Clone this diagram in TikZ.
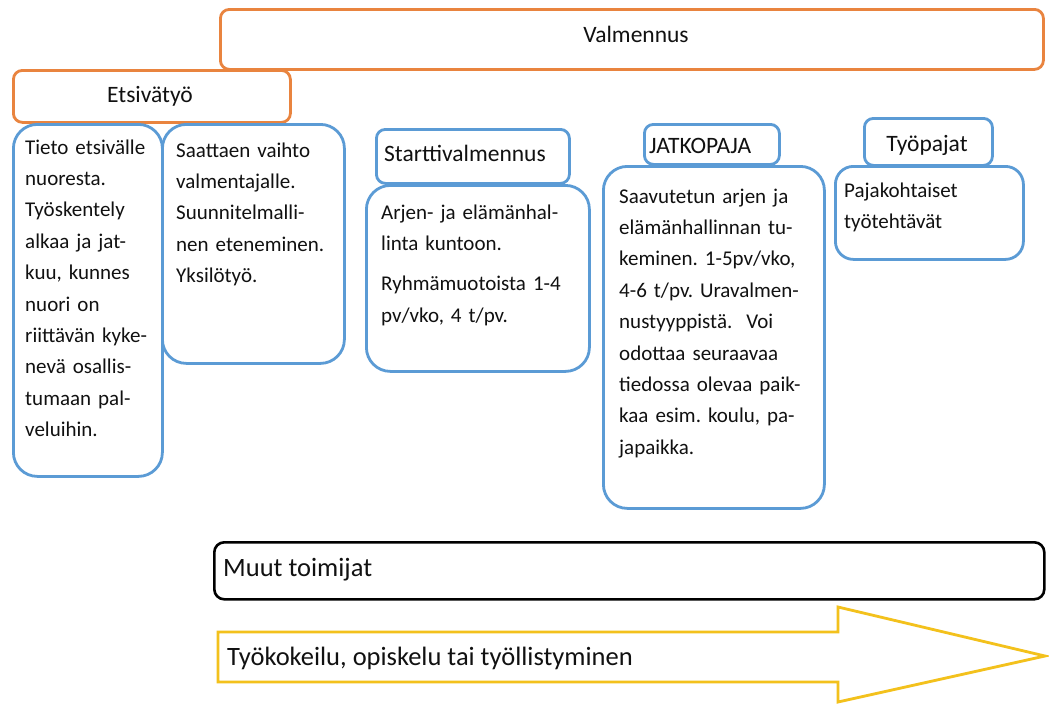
\documentclass[tikz,border=0pt]{standalone}
\usepackage{fontspec}
\setmainfont{Carlito}
\frenchspacing
\definecolor{orng}{HTML}{E9843F}
\definecolor{blu}{HTML}{5B9BD5}
\definecolor{ylw}{HTML}{F3C11C}
\definecolor{txt}{HTML}{111111}
\begin{document}
\begin{tikzpicture}[x=1pt,y=-1pt,
  obox/.style={draw=orng, line width=2.8pt, rounded corners=9pt, fill=white, inner sep=0pt, anchor=north west},
  bhead/.style={draw=blu, line width=2.8pt, rounded corners=9pt, fill=white, inner sep=0pt, anchor=north west},
  bbody/.style={draw=blu, line width=2.8pt, rounded corners=24pt, fill=white, inner sep=0pt, anchor=north west},
  kbox/.style={draw=black, line width=2.6pt, rounded corners=10pt, fill=white, inner sep=0pt, anchor=north west},
  btxt/.style={anchor=base west, inner sep=0pt, text width=220pt, align=left, text=txt, font=\fontsize{21}{31.4}\selectfont},
  htxt/.style={inner sep=0pt, text=txt, font=\fontsize{23.5}{28}\selectfont},
  ltxt/.style={inner sep=0pt, text=txt, font=\fontsize{26.5}{30}\selectfont},
]
\useasboundingbox (0,0) rectangle (1049,704);
\fill[white] (0,0) rectangle (1049,704);

% orange header boxes
\node[obox, minimum width=823pt, minimum height=60pt] (valm) at (219,8) {};
\node[htxt, anchor=mid] (valmt) at (636,40) {Valmennus};
\node[obox, minimum width=277pt, minimum height=52pt] (ets) at (12,69) {};
\node[htxt, anchor=mid] (etst) at (150,100) {Etsivätyö};

% Etsivätyö columns
\node[bbody, minimum width=149pt, minimum height=352pt] (b1) at (12,123) {};
\node[bbody, minimum width=182pt, minimum height=239pt] (b2) at (161,123) {};
\node[btxt] (b1t) at (25,154) {Tieto etsivälle\\nuoresta.\\Työskentely\\alkaa ja jat-\\kuu, kunnes\\nuori on\\riittävän kyke-\\nevä osallis-\\tumaan pal-\\veluihin.};
\node[btxt] (b2t) at (176,157) {Saattaen vaihto\\valmentajalle.\\Suunnitelmalli-\\nen eteneminen.\\Yksilötyö.};

% Starttivalmennus
\node[bhead, minimum width=193pt, minimum height=54pt] (sh) at (375,128) {};
\node[htxt, anchor=mid west] (sht) at (384,159) {Starttivalmennus};
\node[bbody, minimum width=223pt, minimum height=186pt] (sb) at (365,184) {};
\node[btxt] (sbt) at (381,219) {Arjen- ja elämänhal-\\linta kuntoon.\\[9pt]Ryhmämuotoista 1-4\\pv/vko, 4 t/pv.};

% JATKOPAJA
\node[bhead, minimum width=135pt, minimum height=40pt] (jh) at (643,123) {};
\node[htxt, anchor=mid west] (jht) at (649,151) {JATKOPAJA};
\node[bbody, minimum width=221pt, minimum height=342pt] (jb) at (602,165) {};
\node[btxt] (jbt) at (619,203) {Saavutetun arjen ja\\elämänhallinnan tu-\\keminen. 1-5pv/vko,\\4-6 t/pv. Uravalmen-\\nustyyppistä.\ \ Voi\\odottaa seuraavaa\\tiedossa olevaa paik-\\kaa esim. koulu, pa-\\japaikka.};

% Työpajat
\node[bhead, minimum width=128pt, minimum height=47pt] (th) at (863,117) {};
\node[htxt, anchor=mid] (tht) at (927,149) {Työpajat};
\node[bbody, minimum width=188pt, minimum height=93pt, rounded corners=18pt] (tb) at (834,165) {};
\node[btxt] (tbt) at (844,197) {Pajakohtaiset\\työtehtävät};

% Muut toimijat
\node[kbox, minimum width=830pt, minimum height=57pt] (muut) at (213,541) {};
\node[ltxt, anchor=mid west] (muutt) at (223,574) {Muut toimijat};

% big arrow
\draw[draw=ylw, line width=2.8pt, fill=white, line join=miter]
  (218,632) -- (838,632) -- (838,607) -- (1045,656) -- (838,702) -- (838,682) -- (218,682) -- cycle;
\node[ltxt, anchor=mid west] (arrt) at (227,663) {Työkokeilu, opiskelu tai työllistyminen};
\end{tikzpicture}
\end{document}
